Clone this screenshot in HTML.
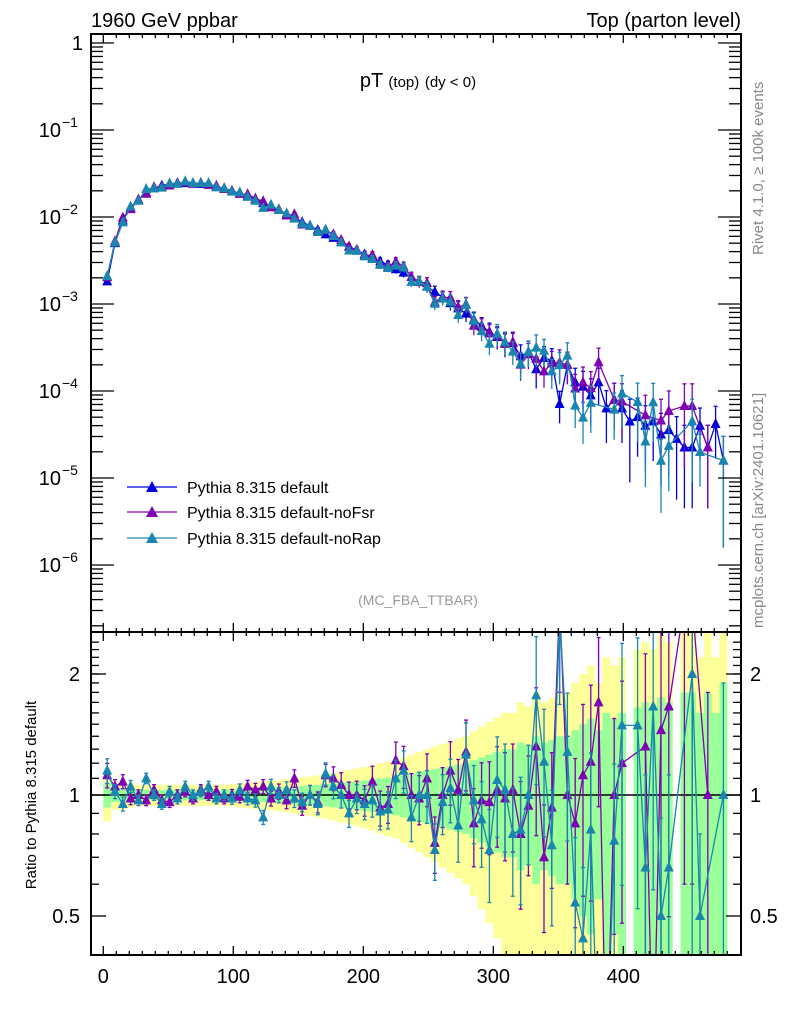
<!DOCTYPE html>
<html><head><meta charset="utf-8"><style>
html,body{margin:0;padding:0;background:#fff;overflow:hidden;width:786px;height:1024px}
svg{display:block;font-family:"Liberation Sans",sans-serif}
</style></head><body>
<svg id="chart" width="786" height="1024" viewBox="0 0 786 1024" xmlns="http://www.w3.org/2000/svg">
<g id="bands"></g>
<g id="marks"></g>
<g id="axes"></g>
<text x="91" y="27" font-size="20">1960 GeV ppbar</text>
<text x="741" y="27" font-size="20" text-anchor="end">Top (parton level)</text>
<text x="418" y="87" font-size="20" text-anchor="middle">pT <tspan font-size="15">(top)</tspan> <tspan font-size="15">(dy &lt; 0)</tspan></text>
<text x="418" y="605" font-size="14" fill="#999" text-anchor="middle">(MC_FBA_TTBAR)</text>
<text transform="translate(763,255) rotate(-90)" font-size="15" fill="#888">Rivet 4.1.0, ≥ 100k events</text>
<text transform="translate(763,628) rotate(-90)" font-size="15" fill="#888">mcplots.cern.ch [arXiv:2401.10621]</text>
<text transform="translate(36,795) rotate(-90)" font-size="15" text-anchor="middle">Ratio to Pythia 8.315 default</text>
<g>
 <g><line x1="127" y1="487" x2="177" y2="487" stroke="#0000dd" stroke-width="1.3"/><path d="M146,492 L158,492 L152,481 Z" fill="#0000dd"/><text x="187" y="493" font-size="16">Pythia 8.315 default</text></g>
 <g><line x1="127" y1="512" x2="177" y2="512" stroke="#7f00b2" stroke-width="1.3"/><path d="M146,517 L158,517 L152,506 Z" fill="#7f00b2"/><text x="187" y="518" font-size="16">Pythia 8.315 default-noFsr</text></g>
 <g><line x1="127" y1="538" x2="177" y2="538" stroke="#1a86b0" stroke-width="1.3"/><path d="M146,543 L158,543 L152,532 Z" fill="#1a86b0"/><text x="187" y="544" font-size="16">Pythia 8.315 default-noRap</text></g>
</g>
</svg>
<script>
const binCenters=[3,9,15,21,27,33,39,45,51,57,63,69,75,81,87,93,99,105,111,117,123,129,135,141,147,153,159,165,171,177,183,189,195,201,207,213,219,225,231,237,243,249,255,261,267,273,279,285,291,297,303,309,315,321,327,333,339,345,351,357,363,369,375,381,387,393,399,405,411,417,423,429,435,441,447,453,459,465,471,477];
const defaultLog10=[-2.74,-2.30,-2.04,-1.90,-1.80,-1.72,-1.67,-1.64,-1.62,-1.61,-1.61,-1.61,-1.62,-1.63,-1.65,-1.67,-1.70,-1.73,-1.76,-1.80,-1.84,-1.88,-1.92,-1.97,-2.01,-2.06,-2.10,-2.15,-2.20,-2.24,-2.29,-2.34,-2.38,-2.43,-2.47,-2.51,-2.55,-2.60,-2.64,-2.69,-2.74,-2.80,-2.86,-2.92,-2.99,-3.05,-3.11,-3.18,-3.25,-3.32,-3.38,-3.45,-3.45,-3.60,-3.55,-3.75,-3.62,-3.65,-4.15,-3.70,-3.90,-3.95,-4.05,-3.90,-4.20,-4.10,-4.20,-4.35,-4.30,-4.40,-4.35,-4.50,-4.45,-4.55,-4.65,-4.65,-4.40,-4.65,-4.38,-4.80];
const noFsrRatio=[1.12,1.05,1.08,0.98,1.0,0.97,1.03,0.97,0.96,1.0,1.02,0.98,1.03,1.0,1.02,0.98,1.0,0.99,1.05,1.03,1.05,0.98,1.02,0.97,1.10,0.94,1.0,0.96,1.12,1.10,1.06,1.0,1.0,0.97,1.08,0.93,0.95,1.22,1.18,1.0,0.98,1.10,0.76,1.0,1.15,1.03,1.28,0.85,0.97,0.96,1.03,0.98,1.03,0.80,0.94,1.32,0.70,0.93,3.0,1.0,0.85,1.12,1.21,1.7,0.2,1.0,1.20,null,null,1.32,0.2,1.45,1.66,null,3.0,3.0,null,1.0,null,null];
const noRapRatio=[1.15,1.02,0.95,1.05,0.97,1.10,1.0,0.95,1.02,0.98,1.05,1.0,1.02,1.05,0.98,1.0,0.98,1.03,0.98,0.97,0.88,1.05,1.0,1.03,0.98,0.96,1.0,0.95,1.13,1.05,1.0,0.90,0.98,0.95,0.97,0.91,0.92,1.10,1.15,0.88,1.0,1.0,0.73,0.96,1.04,0.84,1.26,0.97,0.87,0.73,1.09,1.03,0.80,0.82,1.0,1.77,1.21,0.75,2.8,1.28,0.54,0.44,0.82,0.2,0.2,0.77,1.49,null,1.49,0.66,1.66,0.5,0.66,null,null,2.0,0.5,null,null,1.0];
const relErr=[0.07,0.04,0.04,0.035,0.03,0.03,0.03,0.03,0.03,0.03,0.03,0.03,0.03,0.03,0.03,0.03,0.032,0.034,0.036,0.038,0.04,0.042,0.044,0.047,0.05,0.053,0.056,0.06,0.064,0.068,0.072,0.077,0.082,0.087,0.092,0.1,0.105,0.11,0.12,0.13,0.14,0.15,0.16,0.17,0.18,0.19,0.2,0.22,0.24,0.26,0.28,0.3,0.3,0.35,0.33,0.4,0.35,0.37,0.4,0.4,0.45,0.5,0.55,0.45,0.6,0.55,0.6,null,0.65,0.7,0.65,0.75,0.7,null,0.8,0.8,0.6,0.8,0.6,0.9];
const xTickLabels=["0","100","200","300","400"];
const yTickLabels=["1","10","10","10","10","10","10"];
const yTickExps=["","−1","−2","−3","−4","−5","−6"];
const ratioTickLabels=["0.5","1","2"];

const NS="http://www.w3.org/2000/svg";
const L=91,R=741,T=34,MB=632,B=955;
const X=v=>103.3+(v)*1.3;
const Y=v=>43-87*Math.log10(v);
const RY=r=>795-402*Math.log10(r);
const clampR=y=>Math.max(MB,Math.min(B,y));
function mk(p,tag,attrs){const e=document.createElementNS(NS,tag);for(const k in attrs)e.setAttribute(k,attrs[k]);p.appendChild(e);return e;}
const bands=document.getElementById('bands'),marks=document.getElementById('marks'),axes=document.getElementById('axes');

binCenters.forEach((c,i)=>{
  const e=relErr[i]; if(e==null||defaultLog10[i]==null) return;
  const x0=X(c-3),w=1.3*6;
  const y1=clampR(RY(1+2*e)),y2=clampR(RY(Math.max(1-2*e,0.01)));
  const yb=mk(bands,'rect',{x:x0,y:y1,width:w,height:y2-y1,fill:'#ffff99'});
  
  
  const g1=clampR(RY(1+e)),g2=clampR(RY(Math.max(1-e,0.01)));
  const gb=mk(bands,'rect',{x:x0,y:g1,width:w,height:g2-g1,fill:'#99ff99'});
  
  
});
const one=mk(bands,'line',{x1:L,x2:R,y1:RY(1),y2:RY(1),stroke:'#000','stroke-width':1.5});



function tri(p,x,y,col){return mk(p,'path',{d:`M${x-5},${y+4} L${x+5},${y+4} L${x},${y-6} Z`,fill:col});}

function drawSeries(name,col,mainVals,ratioVals){
  const g=mk(marks,'g',{});
  
  
  const cm=mk(g,'clipPath',{id:'cm'+name});mk(cm,'rect',{x:L,y:T,width:R-L,height:MB-T});
  const cr=mk(g,'clipPath',{id:'cr'+name});mk(cr,'rect',{x:L,y:MB,width:R-L,height:B-MB});
  const gm=mk(g,'g',{'clip-path':`url(#cm${name})`});
  const gr=mk(g,'g',{'clip-path':`url(#cr${name})`});
  let pm=[],pr=[];
  binCenters.forEach((c,i)=>{
    const v=mainVals[i],e=relErr[i]==null?0.8:relErr[i];
    const r=ratioVals?ratioVals[i]:null;
    const x=X(c);
    if(v!=null&&v>0){
      const y=Y(v);pm.push(x+','+y);
      const lo=v*(1-e)>0?Y(v*(1-e)):MB+5,hi=Y(v*(1+e));
      mk(gm,'line',{x1:x,x2:x,y1:hi,y2:lo,stroke:col,'stroke-width':1.3});
      mk(gm,'line',{x1:x-2,x2:x+2,y1:hi,y2:hi,stroke:col,'stroke-width':1.3});
      const t=tri(gm,x,y,col);
      
      
    }
    if(r!=null){
      const y=RY(r);pr.push(x+','+y);
      const lo=r*(1-e)>0.01?RY(r*(1-e)):B+5,hi=RY(r*(1+e));
      mk(gr,'line',{x1:x,x2:x,y1:hi,y2:lo,stroke:col,'stroke-width':1.3});
      mk(gr,'line',{x1:x-2,x2:x+2,y1:hi,y2:hi,stroke:col,'stroke-width':1.3});
      mk(gr,'line',{x1:x-2,x2:x+2,y1:lo,y2:lo,stroke:col,'stroke-width':1.3});
      const t=tri(gr,x,y,col);
      
      
    }
  });
  const lm=mk(gm,'polyline',{points:pm.join(' '),fill:'none',stroke:col,'stroke-width':1.3});
  
  
  if(pr.length){
    const lr=mk(gr,'polyline',{points:pr.join(' '),fill:'none',stroke:col,'stroke-width':1.3});
    
    
  }
}
const defVals=defaultLog10.map(v=>v==null?null:Math.pow(10,v));
drawSeries('default','#0000dd',defVals,null);
drawSeries('nofsr','#7f00b2',defVals.map((v,i)=>noFsrRatio[i]==null?null:(noFsrRatio[i]<=0.25?null:v*noFsrRatio[i])),noFsrRatio);
drawSeries('norap','#1a86b0',defVals.map((v,i)=>noRapRatio[i]==null?null:(noRapRatio[i]<=0.25?null:v*noRapRatio[i])),noRapRatio);

[[T,MB],[MB,B]].forEach(([a,b],k)=>{
  const f=mk(axes,'rect',{x:L,y:a,width:R-L,height:b-a,fill:'none',stroke:'#000','stroke-width':2});
  
  
});
function tick(x1,y1,x2,y2){mk(axes,'line',{x1,y1,x2,y2,stroke:'#000','stroke-width':1.3});}
for(let v=0;v<=480;v+=10){
  const x=X(v),maj=v%100==0,len=maj?9:4;
  [T,MB].forEach(y=>{tick(x,y,x,y+len);});
  [MB,B].forEach(y=>{tick(x,y,x,y-len);});
}
xTickLabels.forEach((s,i)=>{
  const t=mk(axes,'text',{x:X(i*100),y:983,'font-size':20,'text-anchor':'middle'});t.textContent=s;
  
  
});
for(let d=-7;d<=0;d++){
  for(let m=1;m<10;m++){
    const v=m*Math.pow(10,d),y=Y(v);
    if(y<T||y>MB) continue;
    const len=m==1?23:12;
    tick(L,y,L+len,y);tick(R,y,R-len,y);
  }
}
yTickLabels.forEach((s,i)=>{
  const y=Y(Math.pow(10,-i));
  const t=mk(axes,'text',{x:i==0?83:61,y:y+7,'font-size':20,'text-anchor':'end'});t.textContent=s;
  
  
  if(yTickExps[i]){const e=mk(axes,'text',{x:62,y:y-3,'font-size':14,'text-anchor':'start'});e.textContent=yTickExps[i];}
});
[0.4,0.5,0.6,0.7,0.8,0.9,1,2].forEach(v=>{const y=RY(v);const len=(v==0.5||v==1||v==2)?15:8;tick(L,y,L+len,y);tick(R,y,R-len,y);});
for(let v=1.1;v<2.5;v+=0.1){const y=RY(v);if(y<MB)continue;tick(L,y,L+8,y);tick(R,y,R-8,y);}
ratioTickLabels.forEach(s=>{
  const y=RY(parseFloat(s));
  const t=mk(axes,'text',{x:80,y:y+7,'font-size':20,'text-anchor':'end'});t.textContent=s;
  
  
  const t2=mk(axes,'text',{x:750,y:y+7,'font-size':20});t2.textContent=s;
  
  
});
</script>
</body></html>
